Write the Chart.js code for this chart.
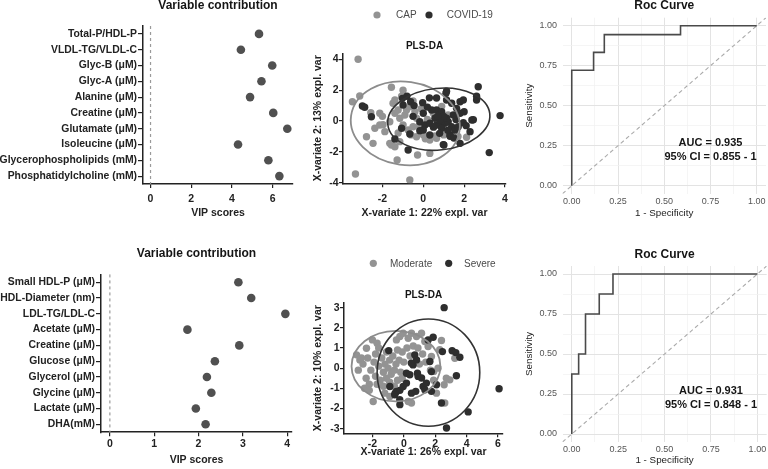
<!DOCTYPE html>
<html><head><meta charset="utf-8">
<script src="https://cdn.jsdelivr.net/npm/chart.js@4.4.1/dist/chart.umd.min.js"></script>
<style>
html,body{margin:0;padding:0;background:#fff;width:768px;height:469px;overflow:hidden;position:relative}
canvas{position:absolute}
</style></head><body>
<canvas id="cA" width="300" height="225" style="left:0;top:0"></canvas>
<canvas id="cB" width="300" height="229" style="left:0;top:240px"></canvas>
<canvas id="cC" width="215" height="225" style="left:300px;top:0"></canvas>
<canvas id="cD" width="215" height="229" style="left:300px;top:240px"></canvas>
<canvas id="cE" width="248" height="225" style="left:520px;top:0"></canvas>
<canvas id="cF" width="248" height="229" style="left:520px;top:240px"></canvas>
<script>
// ---------------- DATA ----------------
const vipTopLabels = ['Total-P/HDL-P','VLDL-TG/VLDL-C','Glyc-B (μM)','Glyc-A (μM)','Alanine (μM)','Creatine (μM)','Glutamate (μM)','Isoleucine (μM)','Glycerophospholipids (mM)','Phosphatidylcholine (mM)'];
const vipTopScores = [5.33, 4.44, 5.98, 5.45, 4.89, 6.03, 6.72, 4.30, 5.79, 6.33];
const vipTopTicks = [0, 2, 4, 6];

const vipBotLabels = ['Small HDL-P (μM)','HDL-Diameter (nm)','LDL-TG/LDL-C','Acetate (μM)','Creatine (μM)','Glucose (μM)','Glycerol (μM)','Glycine (μM)','Lactate (μM)','DHA(mM)'];
const vipBotScores = [2.90, 3.19, 3.96, 1.75, 2.92, 2.37, 2.19, 2.29, 1.94, 2.16];
const vipBotTicks = [0, 1, 2, 3, 4];

const capPoints = [[-3.19,4.0],[-3.47,1.25],[-3.11,1.62],[-3.32,-3.44],[-2.78,-1.02],[-2.46,-1.45],[-2.57,0.54],[-1.56,2.19],[-0.66,-3.83],[-1.28,-2.53],[-0.28,-2.2],[0.32,-2.1],[-1.56,-1.56],[2.12,-1.05],[0.9,0.95],[0.49,0.52],[0.57,-0.97],[0.0,-0.89],[-2.37,-0.47],[-2.13,-0.26],[-1.88,-0.69],[-1.64,-0.05],[-1.48,1.15],[-1.39,0.5],[-1.23,0.71],[-1.15,0.18],[-0.9,0.39],[-0.82,0.71],[-0.66,0.93],[-0.41,0.6],[-0.33,0.18],[-0.99,-0.26],[-0.74,-0.58],[-0.5,-0.37],[-0.33,-1.02],[0.1,-1.15],[0.32,-1.23],[0.65,-1.12],[-1.64,-1.45],[-1.39,-1.67],[-1.15,-1.34],[0.65,0.39],[1.22,0.39],[1.39,-0.69],[-0.99,2.0],[-1.06,1.6],[-1.39,1.36],[-2.13,0.5],[-1.97,-0.24],[-1.23,-0.78],[-0.2,-0.3],[0.2,0.1],[-0.6,-0.9],[1.0,-0.9],[-0.1,0.8],[1.7,-1.0],[-2.0,0.3],[-0.5,1.3]];
const covidPoints = [[-1.02,1.47],[-0.62,1.25],[-0.99,1.04],[-0.03,1.19],[0.0,0.5],[0.41,0.71],[0.65,0.71],[0.9,0.6],[1.11,1.8],[1.14,1.36],[1.39,1.15],[1.63,0.82],[1.8,1.25],[1.8,0.5],[-0.17,-0.05],[0.08,-0.26],[0.32,-0.15],[0.65,-0.26],[0.9,-0.05],[1.06,-0.15],[1.22,-0.05],[1.39,-0.37],[1.55,-0.58],[1.31,-0.91],[0.9,-0.47],[0.32,-0.91],[0.0,-0.58],[-0.17,-0.63],[-0.66,-0.84],[-1.06,-0.47],[-1.39,-1.17],[-0.74,-1.88],[1.01,-1.56],[1.96,-0.11],[2.29,-0.69],[2.38,0.06],[2.61,1.36],[2.69,2.22],[0.57,0.18],[0.81,0.06],[1.14,0.18],[1.47,0.39],[1.71,-0.37],[-2.54,0.28],[3.76,0.35],[3.23,-2.05],[-2.98,0.97],[-2.87,0.89],[1.8,-1.45],[1.96,1.36],[2.61,1.6],[2.45,0.08],[1.14,1.93],[0.65,1.49],[1.31,-0.99],[0.98,-1.53],[-0.45,1.0],[0.2,0.9],[1.0,0.3],[1.6,0.1],[0.5,-0.4],[1.2,-0.6],[0.8,-0.8],[-0.5,0.3],[2.0,0.6],[0.3,1.5],[1.5,-1.1],[-0.8,1.6],[2.1,-0.3],[0.7,0.3]];
const topScatterXTicks = [-2, 0, 2, 4];
const topScatterYTicks = [-4, -2, 0, 2, 4];
const capEllipse = {center: [-0.88, -0.15], radii: [2.68, 2.7], tilt: 8};
const covidEllipse = {center: [0.76, 0.12], radii: [2.51, 2.0], tilt: -6};

const moderatePoints = [[-3.01,0.66],[-2.8,0.41],[-2.38,0.99],[-2.0,1.4],[-1.7,1.24],[-1.95,-1.65],[-1.21,-1.24],[-0.89,-1.4],[-0.47,1.4],[-0.25,1.57],[-0.04,1.73],[0.28,1.48],[0.49,1.73],[0.81,1.57],[1.13,1.73],[1.34,1.32],[1.55,1.07],[1.76,0.58],[1.91,-0.16],[2.29,0.91],[2.4,1.37],[2.61,-1.73],[2.57,-0.82],[2.93,-0.58],[3.25,0.49],[2.08,-1.24],[0.49,-1.73],[0.28,-1.65],[-2.6,0.2],[-2.3,0.5],[-2.1,-0.1],[-1.9,0.3],[-1.8,-0.4],[-1.6,0.1],[-1.5,-0.6],[-1.4,0.5],[-1.3,-0.2],[-1.2,0.2],[-1.1,-0.5],[-1.0,0.0],[-0.9,0.4],[-0.8,-0.3],[-0.7,0.6],[-0.6,-0.1],[-0.5,0.2],[-0.4,-0.6],[-0.3,0.4],[-0.2,-0.2],[-0.1,0.8],[0.0,0.3],[0.2,1.0],[0.4,0.6],[0.6,1.1],[0.9,1.0],[1.2,0.7],[1.0,0.2],[-2.4,-0.5],[-2.2,-0.8],[-1.7,-0.8],[-1.3,-0.9],[-2.5,-1.0],[-2.2,-1.1],[-0.9,-0.7],[-0.6,-0.9],[-1.8,0.7],[-2.7,0.5],[-1.6,1.0],[-1.1,0.8],[-0.4,0.9],[1.4,0.3],[1.7,-0.1],[1.9,-0.6],[-2.9,-0.1],[-0.1,-0.5],[2.18,0.0],[2.71,-0.5]];
const severePoints = [[2.57,3.0],[6.07,-1.02],[2.72,-2.97],[4.1,-2.17],[-0.25,-1.81],[2.4,-1.73],[1.87,1.53],[1.55,1.4],[2.46,0.82],[3.08,0.86],[3.31,0.77],[3.57,0.54],[3.35,-0.38],[-0.96,0.87],[-0.89,-0.91],[-0.55,-1.24],[-0.25,-1.1],[-0.04,-0.91],[0.17,-0.25],[0.38,-0.33],[0.59,0.16],[0.7,0.66],[0.81,0.41],[0.87,-0.25],[0.91,-0.41],[1.13,-0.49],[1.23,-0.91],[1.34,-1.07],[1.44,-0.74],[1.76,-1.15],[1.66,0.33],[0.49,-1.24],[0.76,-1.15],[2.08,-0.82],[0.17,-0.74],[0.48,0.25],[1.76,-0.17],[-0.47,-1.16],[-0.26,-1.57],[-0.58,-1.32]];
const botScatterXTicks = [-2, 0, 2, 4, 6];
const botScatterYTicks = [-3, -2, -1, 0, 1, 2, 3];
const moderateEllipse = {center: [-0.5, 0.1], radii: [2.83, 1.75], tilt: 0};
const severeEllipse = {center: [1.57, -0.22], radii: [3.27, 2.66], tilt: 0};

const rocTopFpr = [0, 0, 0.118, 0.118, 0.176, 0.176, 0.588, 0.588, 1.0];
const rocTopTpr = [0, 0.722, 0.722, 0.833, 0.833, 0.944, 0.944, 1.0, 1.0];
const rocBotFpr = [0, 0, 0.037, 0.037, 0.074, 0.074, 0.148, 0.148, 0.222, 0.222, 1.0];
const rocBotTpr = [0, 0.375, 0.375, 0.5, 0.5, 0.75, 0.75, 0.875, 0.875, 1.0, 1.0];
const rocGridValues = [0, 0.125, 0.25, 0.375, 0.5, 0.625, 0.75, 0.875, 1];
const rocMajorValues = [0, 0.25, 0.5, 0.75, 1];
const rocTopText = ['AUC = 0.935', '95% CI = 0.855 - 1'];
const rocBotText = ['AUC = 0.931', '95% CI = 0.848 - 1'];
const rocTextAt = [[0.75, 0.27], [0.75, 0.18]];

// ---------------- STYLE / HELPERS ----------------
const FONT = "'Liberation Sans', Arial, Helvetica, sans-serif";
Chart.defaults.font.family = FONT;
Chart.defaults.animation = false;
Chart.defaults.responsive = false;
Chart.defaults.devicePixelRatio = 1;
Chart.defaults.events = [];
Chart.defaults.plugins.legend.display = false;
Chart.defaults.plugins.tooltip.enabled = false;
const INK = '#222';
const GRAY = '#939393';
const DARK = '#2e2e2e';

function fixedTicks(arr){ return s => { s.ticks = arr.map(v => ({value: v})); }; }
function sizeFit(n){ return s => { if (s.isHorizontal()) s.height = n; else s.width = n; }; }

function prismAxis(o){
  const a = {
    type: o.type || 'linear',
    offset: !!o.offset,
    afterFit: sizeFit(o.size),
    grid: {drawOnChartArea: false, drawTicks: true, tickLength: o.tl || 4, color: INK, lineWidth: 1.2},
    border: {display: true, color: INK, width: 1.5},
    ticks: {font: {size: o.fs || 10.5, weight: 'bold'}, color: INK, padding: o.pad, autoSkip: false, maxRotation: 0, minRotation: 0},
    title: o.title ? {display: true, text: o.title, font: {size: 10.5, weight: 'bold'}, color: INK, padding: o.tpad} : {display: false}
  };
  if (o.min !== undefined) { a.min = o.min; a.max = o.max; }
  if (o.ticksAt) a.afterBuildTicks = fixedTicks(o.ticksAt);
  return a;
}
function titleOpt(text, size, top, bottom){
  return {display: true, text: text, fullSize: false, color: '#151515',
          font: {size: size, weight: 'bold', lineHeight: 1}, padding: {top: top, bottom: bottom}};
}

const zeroLine = {id: 'zeroLine', beforeDatasetsDraw(c){
  const {ctx, chartArea: a} = c; const px = c.scales.x.getPixelForValue(0);
  ctx.save(); ctx.strokeStyle = '#9a9a9a'; ctx.lineWidth = 1.2; ctx.setLineDash([3, 3]);
  ctx.beginPath(); ctx.moveTo(px, a.top); ctx.lineTo(px, a.bottom); ctx.stroke(); ctx.restore();
}};

function ellipses(list){ return {id: 'ellipses', afterDatasetsDraw(c){
  const {ctx} = c; const x = c.scales.x, y = c.scales.y;
  list.forEach(e => {
    const cx = x.getPixelForValue(e.ell.center[0]), cy = y.getPixelForValue(e.ell.center[1]);
    const rx = Math.abs(x.getPixelForValue(e.ell.center[0] + e.ell.radii[0]) - cx);
    const ry = Math.abs(y.getPixelForValue(e.ell.center[1] + e.ell.radii[1]) - cy);
    ctx.save(); ctx.strokeStyle = e.color; ctx.lineWidth = e.w;
    ctx.beginPath(); ctx.ellipse(cx, cy, rx, ry, e.ell.tilt * Math.PI / 180, 0, Math.PI * 2); ctx.stroke(); ctx.restore();
  });
}}; }

function dotLegend(pos){ return {id: 'dotLegend', afterDraw(c){
  const ctx = c.ctx; ctx.save(); ctx.font = '10px ' + FONT; ctx.textBaseline = 'middle'; ctx.textAlign = 'left';
  const ds = [...c.data.datasets].sort((a, b) => b.order - a.order);
  ds.forEach((d, i) => {
    const p = pos[i];
    ctx.fillStyle = d.backgroundColor; ctx.beginPath(); ctx.arc(p[0], p[2], 3.6, 0, Math.PI * 2); ctx.fill();
    ctx.fillStyle = '#4a4a4a'; ctx.fillText(d.label, p[1], p[2] + 0.5);
  });
  ctx.restore();
}}; }

const rocExtras = (texts) => ({id: 'rocExtras',
  beforeDatasetsDraw(c){
    const {ctx, chartArea: a} = c; const x = c.scales.x, y = c.scales.y;
    ctx.save(); ctx.beginPath(); ctx.rect(a.left, a.top, a.right - a.left, a.bottom - a.top); ctx.clip();
    ctx.strokeStyle = '#ababab'; ctx.lineWidth = 1.1; ctx.setLineDash([4, 3]);
    ctx.beginPath(); ctx.moveTo(x.getPixelForValue(x.min), y.getPixelForValue(x.min));
    ctx.lineTo(x.getPixelForValue(x.max), y.getPixelForValue(x.max)); ctx.stroke(); ctx.restore();
  },
  afterDatasetsDraw(c){
    const ctx = c.ctx; const x = c.scales.x, y = c.scales.y;
    ctx.save(); ctx.font = 'bold 11px ' + FONT; ctx.fillStyle = '#151515'; ctx.textAlign = 'center'; ctx.textBaseline = 'middle';
    texts.forEach((t, i) => ctx.fillText(t, x.getPixelForValue(rocTextAt[i][0]), y.getPixelForValue(rocTextAt[i][1])));
    ctx.restore();
  }
});

function rocAxis(o){
  const isMajor = v => rocMajorValues.indexOf(v) >= 0;
  return {
    type: 'linear', min: -0.05, max: 1.05,
    afterFit: sizeFit(o.size),
    afterBuildTicks: fixedTicks(rocGridValues),
    grid: {drawTicks: false, color: g => isMajor(g.tick.value) ? '#e3e3e3' : '#f0f0f0',
           lineWidth: g => isMajor(g.tick.value) ? 1 : 0.7},
    border: {display: false},
    ticks: {callback: v => isMajor(v) ? v.toFixed(2) : '', font: {size: 9}, color: '#555',
            padding: o.pad, autoSkip: false, maxRotation: 0, minRotation: 0},
    title: {display: true, text: o.title, font: {size: 9.8}, color: '#222', padding: o.tpad}
  };
}
const toXY = arr => arr.map(p => ({x: p[0], y: p[1]}));
const zipXY = (xs, ys) => xs.map((v, i) => ({x: v, y: ys[i]}));

// ---------------- PANEL A: VIP top ----------------
new Chart(document.getElementById('cA'), {
  type: 'line',
  data: {labels: vipTopLabels, datasets: [{data: vipTopScores, showLine: false, pointRadius: 4.3,
    pointBackgroundColor: '#505050', pointBorderColor: '#505050', pointBorderWidth: 0}]},
  options: {
    indexAxis: 'y', layout: {padding: {left: 0, right: 7, top: 0, bottom: 0}},
    plugins: {title: titleOpt('Variable contribution', 12, 0, 14)},
    scales: {
      y: prismAxis({type: 'category', offset: true, size: 143, tl: 5, pad: 1, fs: 10.4}),
      x: prismAxis({min: -0.37, max: 7.0, ticksAt: vipTopTicks, size: 41, pad: 5, title: 'VIP scores', tpad: {top: 0, bottom: 6}})
    }
  },
  plugins: [zeroLine]
});

// ---------------- PANEL B: VIP bottom ----------------
new Chart(document.getElementById('cB'), {
  type: 'line',
  data: {labels: vipBotLabels, datasets: [{data: vipBotScores, showLine: false, pointRadius: 4.3,
    pointBackgroundColor: '#505050', pointBorderColor: '#505050', pointBorderWidth: 0}]},
  options: {
    indexAxis: 'y', layout: {padding: {left: 0, right: 8, top: 0, bottom: 0}},
    plugins: {title: titleOpt('Variable contribution', 12, 8, 14.4)},
    scales: {
      y: prismAxis({type: 'category', offset: true, size: 101, tl: 5, pad: 1, fs: 10.4}),
      x: prismAxis({min: -0.2, max: 4.11, ticksAt: vipBotTicks, size: 36.8, pad: 1.5, title: 'VIP scores', tpad: {top: 0, bottom: 2.3}})
    }
  },
  plugins: [zeroLine]
});

// ---------------- PANEL C: PLS-DA top ----------------
new Chart(document.getElementById('cC'), {
  type: 'scatter',
  data: {datasets: [
    {label: 'CAP', data: toXY(capPoints), order: 2, pointRadius: 3.7, backgroundColor: GRAY, borderColor: GRAY, borderWidth: 0},
    {label: 'COVID-19', data: toXY(covidPoints), order: 1, pointRadius: 3.7, backgroundColor: DARK, borderColor: DARK, borderWidth: 0}
  ]},
  options: {
    layout: {padding: {left: 0, right: 9, top: 0, bottom: 0}},
    plugins: {title: titleOpt('PLS-DA', 10, 41.7, 1.6)},
    scales: {
      x: prismAxis({min: -3.93, max: 4.05, ticksAt: topScatterXTicks, size: 41.7, pad: 5.7, title: 'X-variate 1: 22% expl. var', tpad: {top: 0, bottom: 6}}),
      y: prismAxis({min: -4.04, max: 4.39, ticksAt: topScatterYTicks, size: 43, pad: 0.5, title: 'X-variate 2: 13% expl. var', tpad: {top: 11.7, bottom: 0}})
    }
  },
  plugins: [ellipses([{ell: capEllipse, color: '#8c8c8c', w: 1.8}, {ell: covidEllipse, color: '#333', w: 1.6}]),
            dotLegend([[77, 96, 15], [129, 146.7, 15]])]
});

// ---------------- PANEL D: PLS-DA bottom ----------------
new Chart(document.getElementById('cD'), {
  type: 'scatter',
  data: {datasets: [
    {label: 'Moderate', data: toXY(moderatePoints), order: 2, pointRadius: 3.7, backgroundColor: GRAY, borderColor: GRAY, borderWidth: 0},
    {label: 'Severe', data: toXY(severePoints), order: 1, pointRadius: 3.7, backgroundColor: DARK, borderColor: DARK, borderWidth: 0}
  ]},
  options: {
    layout: {padding: {left: 0, right: 12, top: 0, bottom: 0}},
    plugins: {title: titleOpt('PLS-DA', 10, 50, 3)},
    scales: {
      x: prismAxis({min: -3.81, max: 6.32, ticksAt: botScatterXTicks, size: 35.7, pad: 0.7, title: 'X-variate 1: 26% expl. var', tpad: {top: 0, bottom: 10.4}}),
      y: prismAxis({min: -3.23, max: 3.23, ticksAt: botScatterYTicks, size: 44, pad: 0.5, title: 'X-variate 2: 10% expl. var', tpad: {top: 11.7, bottom: 0}})
    }
  },
  plugins: [ellipses([{ell: moderateEllipse, color: '#8c8c8c', w: 1.8}, {ell: severeEllipse, color: '#333', w: 1.6}]),
            dotLegend([[73.3, 90, 23.3], [148.7, 164, 23.3]])]
});

// ---------------- PANEL E: ROC top ----------------
new Chart(document.getElementById('cE'), {
  type: 'scatter',
  data: {datasets: [{data: zipXY(rocTopFpr, rocTopTpr), showLine: true, pointRadius: 0, borderColor: '#4a4a4a', borderWidth: 1.6, fill: false}]},
  options: {
    layout: {padding: {left: 0, right: 1.1, top: 0, bottom: 0}},
    plugins: {title: titleOpt('Roc Curve', 12, 0, 5.7)},
    scales: {
      x: rocAxis({size: 31.3, pad: 2.4, title: '1 - Specificity', tpad: {top: 0, bottom: 6}}),
      y: rocAxis({size: 42.5, pad: 5.5, title: 'Sensitivity', tpad: {top: 3, bottom: 0}})
    }
  },
  plugins: [rocExtras(rocTopText)]
});

// ---------------- PANEL F: ROC bottom ----------------
new Chart(document.getElementById('cF'), {
  type: 'scatter',
  data: {datasets: [{data: zipXY(rocBotFpr, rocBotTpr), showLine: true, pointRadius: 0, borderColor: '#4a4a4a', borderWidth: 1.6, fill: false}]},
  options: {
    layout: {padding: {left: 0, right: 1.1, top: 0, bottom: 0}},
    plugins: {title: titleOpt('Roc Curve', 12, 8.7, 5.3)},
    scales: {
      x: rocAxis({size: 27, pad: 1.8, title: '1 - Specificity', tpad: {top: 0, bottom: 2.4}}),
      y: rocAxis({size: 42.5, pad: 5.5, title: 'Sensitivity', tpad: {top: 3, bottom: 0}})
    }
  },
  plugins: [rocExtras(rocBotText)]
});
</script>
</body></html>
